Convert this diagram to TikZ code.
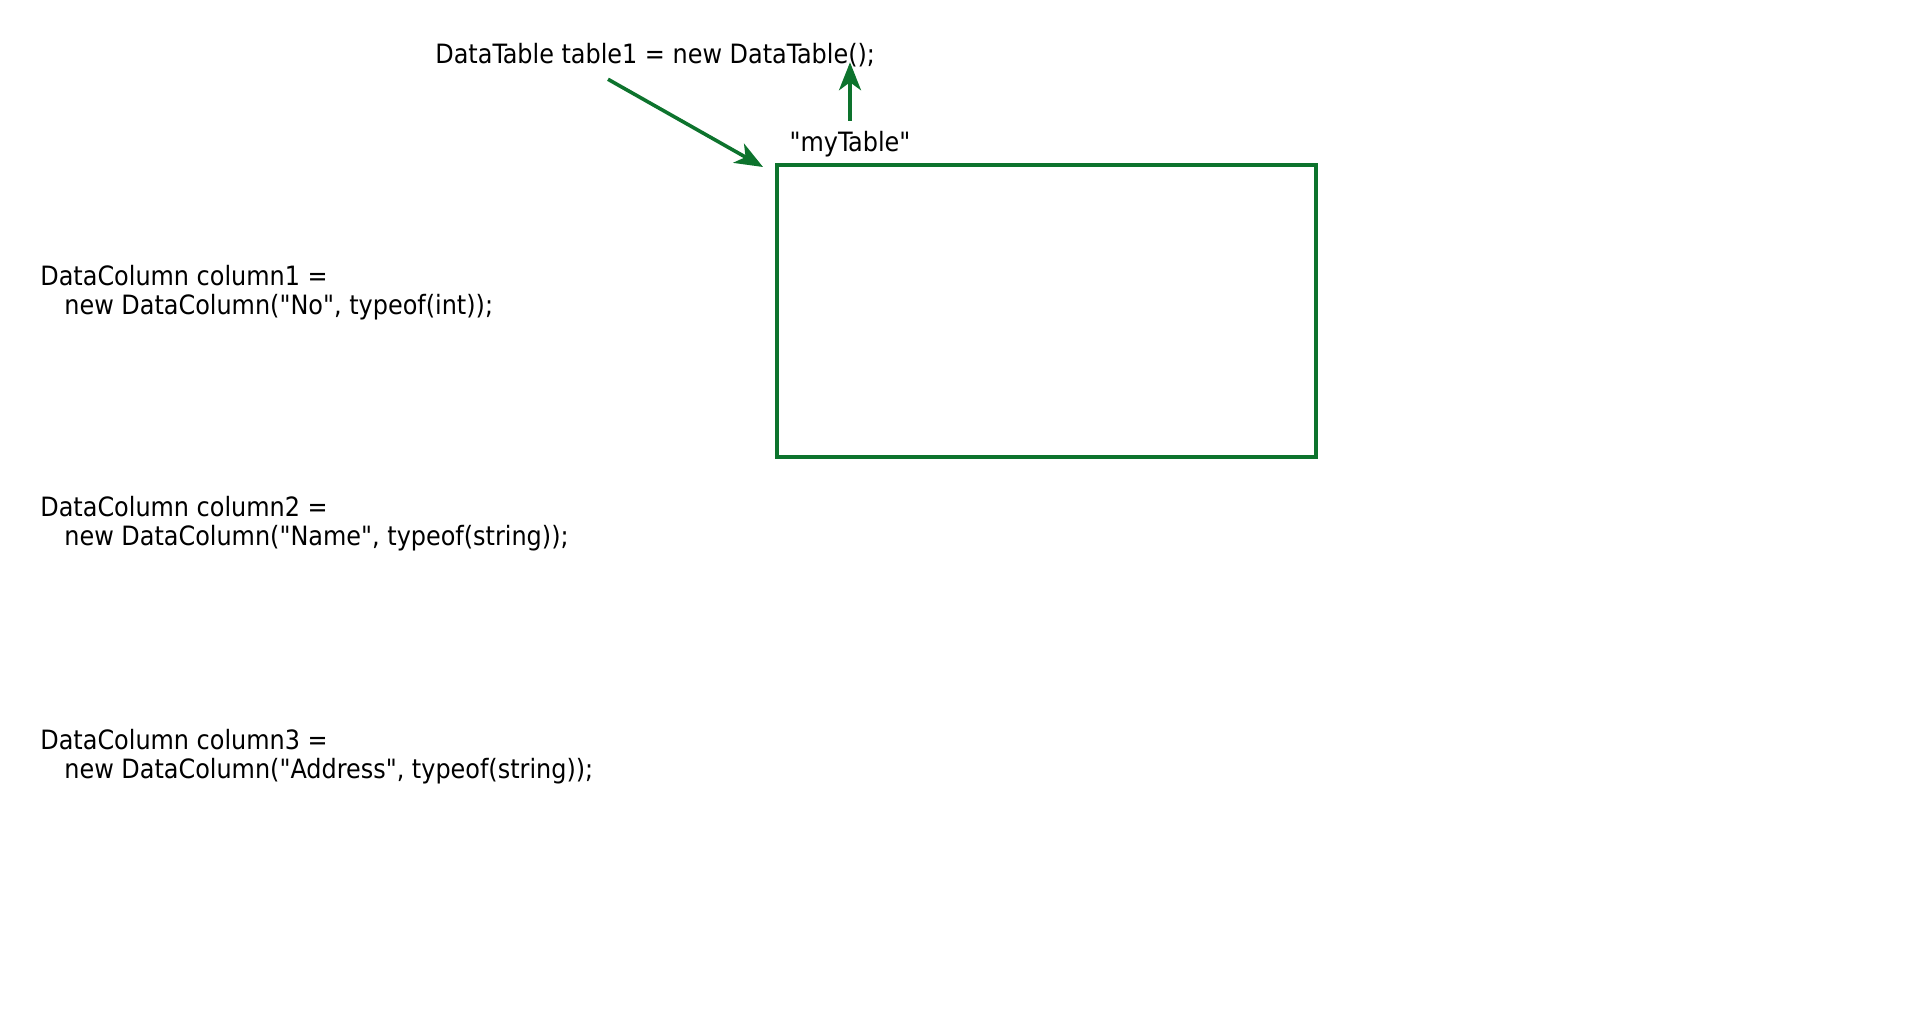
\documentclass[tikz,border=0pt]{standalone}
\usepackage{fontspec}
\setmainfont{DejaVu Sans Condensed}[Ligatures=TeXOff]
\usetikzlibrary{arrows.meta,calc,positioning}
\definecolor{codegreen}{RGB}{13,115,45}
\tikzset{
  code/.style={anchor=west, inner sep=0pt, font=\fontsize{13.3}{14.65}\selectfont, align=left},
  conn/.style={draw=codegreen, line width=1.8pt, -{Stealth[length=14pt,width=11pt,inset=4pt]}},
  tablebox/.style={draw=codegreen, line width=1.8pt, minimum width=269.5pt, minimum height=146pt, anchor=north west, inner sep=0pt}
}
\begin{document}
\begin{tikzpicture}[x=0.5pt,y=-0.5pt]
\useasboundingbox (0,0) rectangle (1920,1017);
\node[code] (title) at (435,55) {DataTable table1 = new DataTable();};
\node[tablebox] (tbl) at (775,163) {};
\node[code, anchor=center] (label) at (850,144) {"myTable"};
\node[code] (col1) at (40,293) {DataColumn column1 =\\\hspace*{12pt}new DataColumn("No", typeof(int));};
\node[code] (col2) at (40,524) {DataColumn column2 =\\\hspace*{12pt}new DataColumn("Name", typeof(string));};
\node[code] (col3) at (40,756.5) {DataColumn column3 =\\\hspace*{12pt}new DataColumn("Address", typeof(string));};
\draw[conn] ([xshift=86.5pt,yshift=-6pt]title.south west) -- ([xshift=-6pt,yshift=-2pt]tbl.north west);
\draw[conn, shorten <=5pt] (label.north) -- ([yshift=2.5pt]label.north |- title.south);
\end{tikzpicture}
\end{document}
